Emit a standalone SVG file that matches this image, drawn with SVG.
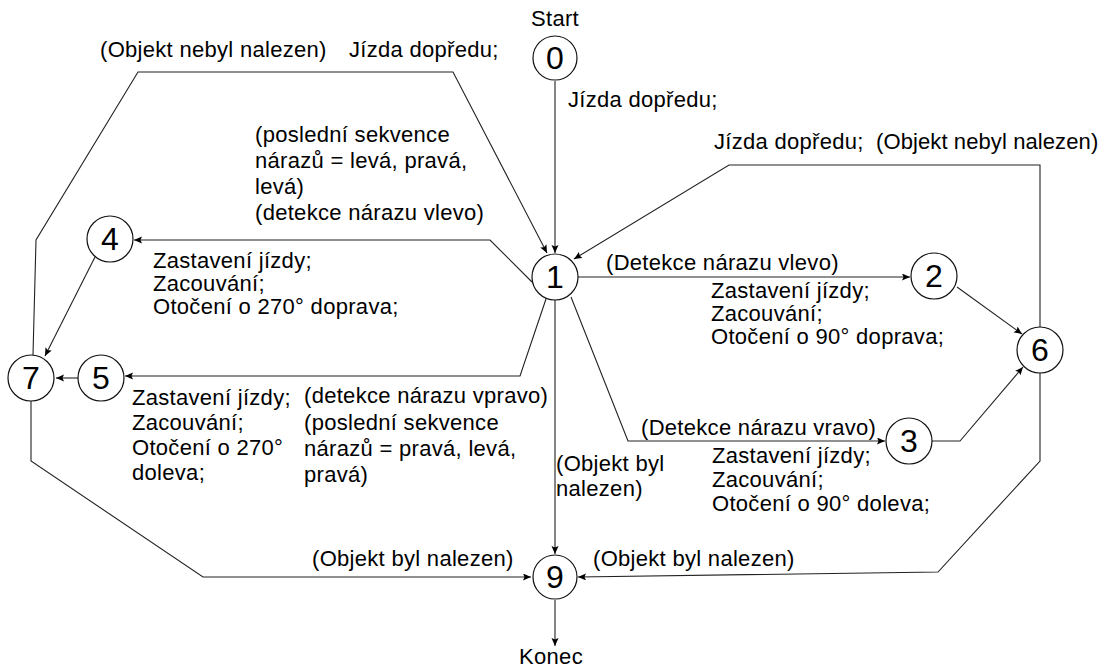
<svg xmlns="http://www.w3.org/2000/svg" width="1109" height="669" viewBox="0 0 1109 669">
<style>
.n circle{fill:#fff;stroke:#111;stroke-width:1.2}
.n text{font-family:"Liberation Sans",Arial,sans-serif;font-size:32px;text-anchor:middle;fill:#000}
.c path{fill:none;stroke:#222;stroke-width:1.1;marker-end:url(#ah)}
.t{font-family:"Liberation Sans",Arial,sans-serif;font-size:22px;letter-spacing:0.3px;fill:#000}
.m{text-anchor:middle}
</style>
<defs>
<marker id="ah" markerWidth="9" markerHeight="8" refX="8" refY="3.5" orient="auto" markerUnits="userSpaceOnUse">
<path d="M0,0 L8,3.5 L0,7 L1.5,3.5 z" fill="#000" stroke="none"/>
</marker>
</defs>
<rect width="1109" height="669" fill="#fff"/>
<g class="c" id="connectors">
<path d="M555,81 V253"/>
<path d="M1040,327 V165 H729 L574,259"/>
<path d="M33,355 L36,240 L138,72 H453 L547,253"/>
<path d="M532,282 L490,240 H134"/>
<path d="M546,299 L520,376 H125"/>
<path d="M78,378 H56"/>
<path d="M95,257 L45,356"/>
<path d="M578,277 H910"/>
<path d="M571,297 L628,441 H885"/>
<path d="M957,287 L1022,334"/>
<path d="M932,441 H960 L1023,367"/>
<path d="M555,300 V554"/>
<path d="M31,401 V461 L203,577 H531"/>
<path d="M1040,373 V461 L938,572 L578,577"/>
<path d="M555,600 V646"/>
</g>
<g id="node0" class="n"><circle cx="555" cy="58" r="22"/><text x="555" y="69">0</text></g>
<g id="node1" class="n"><circle cx="555" cy="277" r="23"/><text x="555" y="288">1</text></g>
<g id="node2" class="n"><circle cx="934" cy="276" r="23"/><text x="934" y="287">2</text></g>
<g id="node3" class="n"><circle cx="909" cy="441" r="23"/><text x="909" y="452">3</text></g>
<g id="node4" class="n"><circle cx="110" cy="239" r="23"/><text x="110" y="250">4</text></g>
<g id="node5" class="n"><circle cx="101" cy="378" r="23"/><text x="101" y="389">5</text></g>
<g id="node6" class="n"><circle cx="1040" cy="350" r="23"/><text x="1040" y="361">6</text></g>
<g id="node7" class="n"><circle cx="31" cy="378" r="23"/><text x="31" y="389">7</text></g>
<g id="node9" class="n"><circle cx="555" cy="577" r="22"/><text x="555" y="588">9</text></g>
<g id="labels">
<text class="t m" x="555" y="26">Start</text>
<text class="t m" x="551" y="664">Konec</text>
<text class="t" x="100" y="57">(Objekt nebyl nalezen)</text>
<text class="t" x="349" y="57">Jízda dopředu;</text>
<text class="t" x="568" y="107">Jízda dopředu;</text>
<text class="t" x="714" y="149">Jízda dopředu;</text>
<text class="t" x="876" y="149" style="letter-spacing:0.1px">(Objekt nebyl nalezen)</text>
<text class="t" x="255" y="142">(poslední sekvence</text>
<text class="t" x="255" y="168">nárazů = levá, pravá,</text>
<text class="t" x="255" y="194">levá)</text>
<text class="t" x="255" y="220">(detekce nárazu vlevo)</text>
<text class="t" x="153" y="268">Zastavení jízdy;</text>
<text class="t" x="153" y="291">Zacouvání;</text>
<text class="t" x="153" y="314">Otočení o 270° doprava;</text>
<text class="t" x="606" y="270">(Detekce nárazu vlevo)</text>
<text class="t" x="711" y="298">Zastavení jízdy;</text>
<text class="t" x="711" y="321">Zacouvání;</text>
<text class="t" x="711" y="344">Otočení o 90° doprava;</text>
<text class="t" x="132" y="405">Zastavení jízdy;</text>
<text class="t" x="132" y="430">Zacouvání;</text>
<text class="t" x="132" y="455">Otočení o 270°</text>
<text class="t" x="132" y="480">doleva;</text>
<text class="t" x="304" y="403">(detekce nárazu vpravo)</text>
<text class="t" x="304" y="430">(poslední sekvence</text>
<text class="t" x="304" y="456">nárazů = pravá, levá,</text>
<text class="t" x="304" y="482">pravá)</text>
<text class="t" x="641" y="435">(Detekce nárazu vravo)</text>
<text class="t" x="712" y="463">Zastavení jízdy;</text>
<text class="t" x="712" y="487">Zacouvání;</text>
<text class="t" x="712" y="511">Otočení o 90° doleva;</text>
<text class="t" x="556" y="471">(Objekt byl</text>
<text class="t" x="556" y="496">nalezen)</text>
<text class="t" x="312" y="566">(Objekt byl nalezen)</text>
<text class="t" x="593" y="566">(Objekt byl nalezen)</text>
</g>
</svg>
